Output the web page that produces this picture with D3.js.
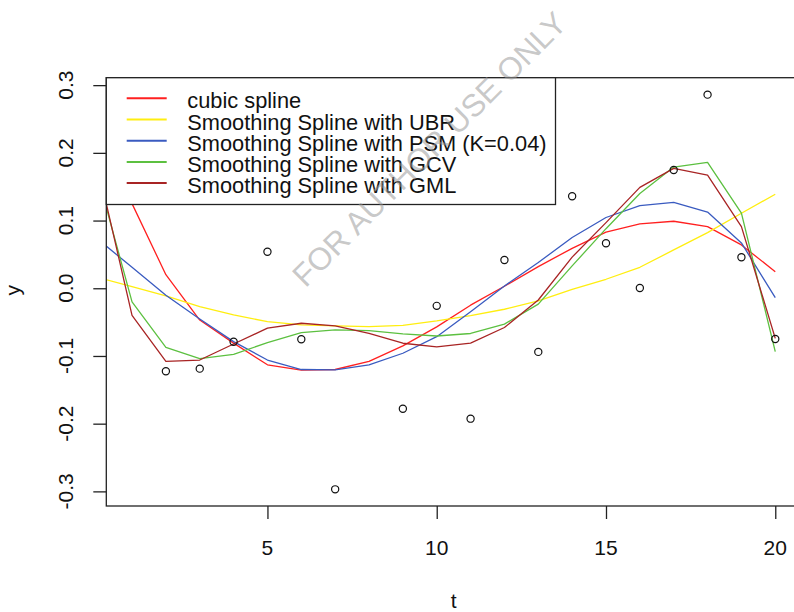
<!DOCTYPE html>
<html>
<head>
<meta charset="utf-8">
<script src="https://cdn.jsdelivr.net/npm/d3@7/dist/d3.min.js"></script>
<style>
  html, body { margin: 0; padding: 0; background: #fff; }
  svg { display: block; }
  text { font-family: "Liberation Sans", Arial, sans-serif; }
</style>
</head>
<body>
<script>
// ---- data ----
const pointT = [2, 3, 4, 5, 6, 7, 9, 10, 11, 12, 13, 14, 15, 16, 17, 18, 19, 20];
const pointY = [-0.1226, -0.1187, -0.0789, 0.054, -0.0754, -0.297, -0.178, -0.026, -0.1926, 0.0418, -0.094,
                0.136, 0.0664, 0.0004, 0.1747, 0.286, 0.0458, -0.0749];

const curveT = [0, 1, 2, 3, 4, 5, 6, 7, 8, 9, 10, 11, 12, 13, 14, 15, 16, 17, 18, 19, 20];
const cubicSpline = [0.24, 0.125, 0.02, -0.047, -0.081, -0.113, -0.121, -0.12, -0.108, -0.085, -0.057,
                     -0.025, 0.003, 0.032, 0.059, 0.083, 0.095, 0.099, 0.091, 0.064, 0.0245];
const ubr = [0.016, 0.0024, -0.0114, -0.027, -0.0394, -0.0493, -0.0542, -0.0555, -0.0567, -0.0547, -0.0483,
             -0.0404, -0.031, -0.0185, -0.0015, 0.0133, 0.031, 0.0566, 0.0822, 0.1108, 0.1388];
const psm = [0.072, 0.031, -0.0104, -0.0453, -0.0788, -0.106, -0.12, -0.1205, -0.1133, -0.096, -0.0715,
             -0.0346, 0.0034, 0.038, 0.075, 0.1045, 0.122, 0.127, 0.1125, 0.067, -0.0139];
const gcv = [0.163, -0.02, -0.0872, -0.104, -0.0975, -0.0803, -0.0656, -0.0616, -0.0626, -0.0675, -0.0705,
             -0.0668, -0.053, -0.0235, 0.033, 0.088, 0.14, 0.179, 0.186, 0.111, -0.0936];
const gml = [0.177, -0.04, -0.108, -0.106, -0.0823, -0.059, -0.0517, -0.0557, -0.0665, -0.0812, -0.0867,
             -0.081, -0.058, -0.0173, 0.046, 0.097, 0.149, 0.177, 0.167, 0.091, -0.074];

const seriesNames = ["cubic spline", "Smoothing Spline with UBR", "Smoothing Spline with PSM (K=0.04)",
                     "Smoothing Spline with GCV", "Smoothing Spline with GML"];
const seriesValues = [cubicSpline, ubr, psm, gcv, gml];
const seriesColors = ["#ff2020", "#ffee10", "#3a5bc0", "#5cc040", "#a82424"];

const xTicks = [5, 10, 15, 20];
const yTicks = [-0.3, -0.2, -0.1, 0.0, 0.1, 0.2, 0.3];
const yTickLabels = ["-0.3", "-0.2", "-0.1", "0.0", "0.1", "0.2", "0.3"];

// ---- layout ----
const W = 794, H = 612;
const L = 106.3, R = 801, T = 77.7, B = 506;

const svg = d3.select("body").append("svg").attr("width", W).attr("height", H);

const x = d3.scaleLinear().domain([0.24, 20.76]).range([L, R]);
const y = d3.scaleLinear().domain([-0.3216, 0.311]).range([B, T]);

svg.append("defs").append("clipPath").attr("id", "plotclip")
  .append("rect").attr("x", L).attr("y", T).attr("width", R - L).attr("height", B - T);

// curves
const line = d3.line().x((d, i) => x(curveT[i])).y(d => y(d));
const gCurves = svg.append("g").attr("clip-path", "url(#plotclip)");
seriesValues.forEach((vals, k) => {
  gCurves.append("path").attr("d", line(vals))
    .attr("fill", "none").attr("stroke", seriesColors[k]).attr("stroke-width", 1.3)
    .attr("stroke-linejoin", "round");
});

// points
svg.append("g").selectAll("circle").data(pointT).join("circle")
  .attr("cx", d => x(d)).attr("cy", (d, i) => y(pointY[i])).attr("r", 3.6)
  .attr("fill", "none").attr("stroke", "#111").attr("stroke-width", 1.2);

// box
svg.append("rect").attr("x", L).attr("y", T).attr("width", R - L).attr("height", B - T)
  .attr("fill", "none").attr("stroke", "#222").attr("stroke-width", 1.3);

// y axis
const yAxis = d3.axisLeft(y).tickValues(yTicks).tickSize(13).tickFormat((d, i) => "");
const gy = svg.append("g").attr("transform", `translate(${L},0)`).call(yAxis);
gy.select(".domain").remove();
gy.selectAll(".tick line").attr("stroke", "#222").attr("stroke-width", 1.3);
svg.append("g").selectAll("text").data(yTicks).join("text")
  .attr("transform", d => `translate(73,${y(d)}) rotate(-90)`)
  .attr("text-anchor", "middle").attr("font-size", 21).attr("fill", "#111")
  .text((d, i) => yTickLabels[i]);

// x axis
const xAxis = d3.axisBottom(x).tickValues(xTicks).tickSize(13).tickFormat("");
const gx = svg.append("g").attr("transform", `translate(0,${B})`).call(xAxis);
gx.select(".domain").remove();
gx.selectAll(".tick line").attr("stroke", "#222").attr("stroke-width", 1.3);
svg.append("g").selectAll("text").data(xTicks).join("text")
  .attr("x", d => x(d)).attr("y", 555)
  .attr("text-anchor", "middle").attr("font-size", 21).attr("fill", "#111")
  .text(d => d);

// axis titles
svg.append("text").attr("x", x(10.5)).attr("y", 608).attr("text-anchor", "middle")
  .attr("font-size", 21).attr("fill", "#111").text("t");
svg.append("text").attr("transform", `translate(20,${y(0.0) + 2}) rotate(-90)`)
  .attr("text-anchor", "middle").attr("font-size", 21).attr("fill", "#111").text("y");

// legend
const lg = svg.append("g");
lg.append("rect").attr("x", L).attr("y", T).attr("width", 555.5 - L).attr("height", 204.5 - T)
  .attr("fill", "#fff").attr("stroke", "#222").attr("stroke-width", 1.3);
seriesNames.forEach((name, k) => {
  const cy = 98.3 + k * 21.2;
  lg.append("line").attr("x1", 126.7).attr("x2", 166.7).attr("y1", cy).attr("y2", cy)
    .attr("stroke", seriesColors[k]).attr("stroke-width", 2);
  lg.append("text").attr("x", 187.3).attr("y", cy + 10).attr("font-size", 21.8).attr("fill", "#111")
    .text(name);
});

// watermark
svg.append("text").attr("transform", "translate(437,157) rotate(-45)")
  .attr("text-anchor", "middle").attr("font-size", 31.5).attr("fill", "#9a9a9a")
  .attr("fill-opacity", 0.55).text("FOR AUTHOR USE ONLY");
</script>
</body>
</html>
